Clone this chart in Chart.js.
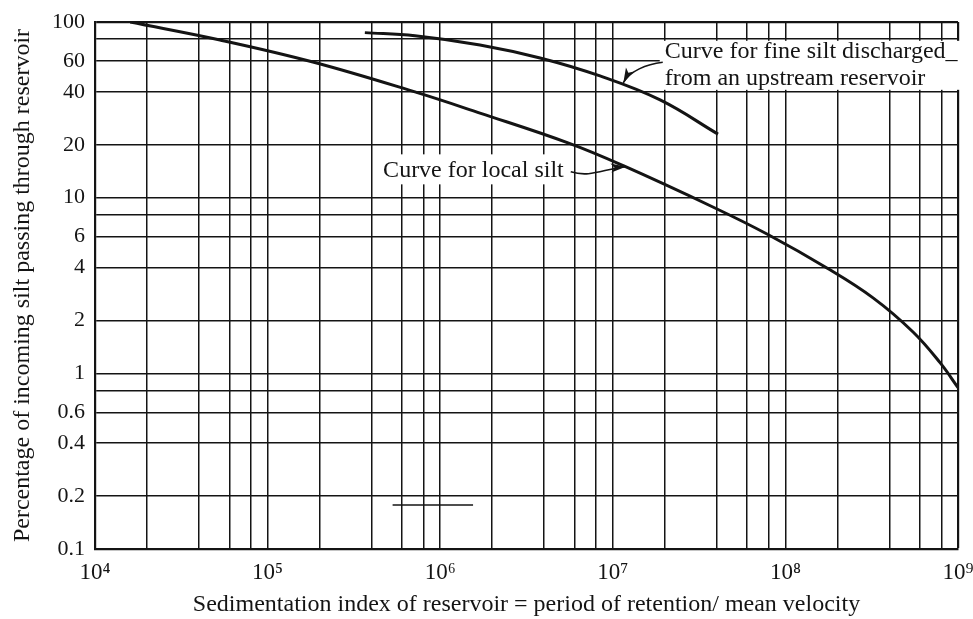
<!DOCTYPE html>
<html>
<head>
<meta charset="utf-8">
<script src="https://cdn.jsdelivr.net/npm/chart.js@4.4.1/dist/chart.umd.min.js"></script>
<style>
  html, body { margin: 0; padding: 0; background: #ffffff; }
  #wrap { position: relative; width: 973px; height: 619px; }
</style>
</head>
<body>
<div id="wrap"><canvas id="chart"></canvas></div>
<script>
// Sedimentation index (period of retention / mean velocity) vs. percentage of silt passing
const localSiltIndex = [1.6e4, 5.3e4, 1.83e5, 7.14e5, 1.7e6, 5.5e6, 1.15e7, 3.8e7, 7.82e7, 1.74e8, 3.22e8, 5.49e8, 7.87e8, 1e9];
const localSiltPct   = [100, 79, 59.2, 40, 30.3, 20.5, 15.2, 8.85, 6.21, 3.98, 2.69, 1.72, 1.15, 0.83];

const fineSiltIndex = [3.66e5, 7.14e5, 1.7e6, 3.79e6, 8.43e6, 1.88e7, 4.07e7];
const fineSiltPct   = [87, 83.6, 74, 62.4, 49.3, 36, 23];

// short stroke printed near the bottom of the sheet
const strokeIndex = [5.3e5, 1.55e6];
const strokePct   = [0.178, 0.178];

// graph-paper rulings and labelled values
const xGridValues  = [1e4, 2e4, 4e4, 6e4, 8e4,
                      1e5, 2e5, 4e5, 6e5, 8e5,
                      1e6, 2e6, 4e6, 6e6, 8e6,
                      1e7, 2e7, 4e7, 6e7, 8e7,
                      1e8, 2e8, 4e8, 6e8, 8e8,
                      1e9];
const xLabelValues = [1e4, 1e5, 1e6, 1e7, 1e8, 1e9];
const xLabelText   = ['10\u2074', '10\u2075', '10\u2076', '10\u2077', '10\u2078', '10\u2079'];

const yGridValues  = [0.1, 0.2, 0.4, 0.6, 0.8, 1, 2, 4, 6, 8, 10, 20, 40, 60, 80, 100];
const yLabelValues = [0.1, 0.2, 0.4, 0.6, 1, 2, 4, 6, 10, 20, 40, 60, 100];
const yLabelText   = ['0.1', '0.2', '0.4', '0.6', '1', '2', '4', '6', '10', '20', '40', '60', '100'];

const SERIF = '"Liberation Serif", "DejaVu Serif", serif';
const INK = '#141414';

function pairs(xs, ys) { return xs.map((x, i) => ({ x: x, y: ys[i] })); }

// Callout labels with white backing and curved arrows pointing to each curve
const calloutPlugin = {
  id: 'callouts',
  afterDatasetsDraw(chart, args, opts) {
    const ctx = chart.ctx;
    const xs = chart.scales.x, ys = chart.scales.y;
    ctx.save();
    ctx.font = '24px ' + SERIF;
    ctx.textBaseline = 'middle';
    opts.items.forEach(item => {
      const left = xs.getPixelForValue(item.x);
      const top = ys.getPixelForValue(item.y);
      const lineGap = 27;
      const widths = item.lines.map(t => ctx.measureText(t).width);
      const w = Math.max(...widths);
      const h = lineGap * item.lines.length;
      ctx.fillStyle = '#ffffff';
      ctx.fillRect(left - item.padL, top - lineGap / 2 - item.padT, w + item.padL + item.padR, h + item.padT + item.padB - 1);
      ctx.fillStyle = INK;
      item.lines.forEach((t, i) => ctx.fillText(t, left, top + i * lineGap + 1));

      // arrow: tail near the text, tip on the curve
      const tx = left + item.tail[0] + (item.tailFromRight ? w : 0);
      const ty = top + item.tail[1];
      const px = xs.getPixelForValue(item.tipX);
      const py = ys.getPixelForValue(item.tipY);
      const c1x = tx + item.c1[0], c1y = ty + item.c1[1];
      const c2x = px + item.c2[0], c2y = py + item.c2[1];
      ctx.strokeStyle = INK;
      ctx.lineWidth = 1.6;
      ctx.beginPath();
      ctx.moveTo(tx, ty);
      ctx.bezierCurveTo(c1x, c1y, c2x, c2y, px, py);
      ctx.stroke();
      const ang = Math.atan2(py - c2y, px - c2x);
      const len = 15, half = 4.5;
      ctx.beginPath();
      ctx.moveTo(px, py);
      ctx.lineTo(px - len * Math.cos(ang) + half * Math.sin(ang), py - len * Math.sin(ang) - half * Math.cos(ang));
      ctx.lineTo(px - len * 0.75 * Math.cos(ang), py - len * 0.75 * Math.sin(ang));
      ctx.lineTo(px - len * Math.cos(ang) - half * Math.sin(ang), py - len * Math.sin(ang) + half * Math.cos(ang));
      ctx.closePath();
      ctx.fillStyle = INK;
      ctx.fill();
    });
    ctx.restore();
  }
};

const edgeWidth = (ctx, edgeValue) => (ctx.tick && ctx.tick.value === edgeValue ? 2.2 : 1.5);

new Chart(document.getElementById('chart'), {
  type: 'line',
  data: {
    datasets: [
      {
        label: 'Curve for local silt',
        data: pairs(localSiltIndex, localSiltPct),
        borderColor: INK,
        borderWidth: 3,
        pointRadius: 0,
        tension: 0.4,
        fill: false
      },
      {
        label: 'Curve for fine silt discharged from an upstream reservoir',
        data: pairs(fineSiltIndex, fineSiltPct),
        borderColor: INK,
        borderWidth: 3,
        pointRadius: 0,
        tension: 0.4,
        fill: false
      },
      {
        label: 'stroke',
        data: pairs(strokeIndex, strokePct),
        borderColor: INK,
        borderWidth: 1.5,
        pointRadius: 0,
        fill: false
      }
    ]
  },
  options: {
    responsive: true,
    maintainAspectRatio: false,
    animation: false,
    events: [],
    layout: { padding: { left: 0, right: 15, top: 22, bottom: 0 } },
    plugins: {
      legend: { display: false },
      tooltip: { enabled: false },
      callouts: {
        items: [
          {
            lines: ['Curve for local silt'],
            x: 4.67e5, y: 14.4,
            padL: 4, padR: 4, padT: 2, padB: 2,
            tail: [7, 2], tailFromRight: true,
            c1: [20, 6], c2: [-22, 2],
            tipX: 1.19e7, tipY: 15
          },
          {
            lines: ['Curve for fine silt discharged_', 'from an upstream reservoir'],
            x: 2.0e7, y: 69,
            padL: 5, padR: 9, padT: -4, padB: 0,
            tail: [-2, 12], tailFromRight: false,
            c1: [-16, 2], c2: [6, -12],
            tipX: 1.15e7, tipY: 45
          }
        ]
      }
    },
    scales: {
      x: {
        type: 'logarithmic',
        min: 1e4,
        max: 1e9,
        afterBuildTicks: s => { s.ticks = xGridValues.map(v => ({ value: v })); },
        afterFit: s => { s.height = 70; s.paddingLeft = 0; s.paddingRight = 0; },
        ticks: {
          autoSkip: false,
          maxRotation: 0,
          padding: 10,
          color: INK,
          font: { family: SERIF, size: 23 },
          callback: v => { const i = xLabelValues.indexOf(v); return i >= 0 ? xLabelText[i] : ''; }
        },
        grid: {
          color: INK,
          lineWidth: c => edgeWidth(c, 1e9),
          drawTicks: false
        },
        border: { display: true, color: INK, width: 2.2 },
        title: {
          display: true,
          text: 'Sedimentation index of reservoir = period of retention/ mean velocity',
          color: INK,
          font: { family: SERIF, size: 24 },
          padding: { top: 0, bottom: 0 }
        }
      },
      y: {
        type: 'logarithmic',
        min: 0.1,
        max: 100,
        afterBuildTicks: s => { s.ticks = yGridValues.map(v => ({ value: v })); },
        afterFit: s => { s.width = 95; s.paddingTop = 0; s.paddingBottom = 0; },
        ticks: {
          autoSkip: false,
          padding: 10,
          color: INK,
          font: { family: SERIF, size: 22 },
          callback: v => { const i = yLabelValues.indexOf(v); return i >= 0 ? yLabelText[i] : ''; }
        },
        grid: {
          color: INK,
          lineWidth: c => edgeWidth(c, 100),
          drawTicks: false
        },
        border: { display: true, color: INK, width: 2.2 },
        title: {
          display: true,
          text: 'Percentage of incoming silt passing through reservoir',
          color: INK,
          font: { family: SERIF, size: 24 },
          padding: { top: 8, bottom: 0 }
        }
      }
    }
  },
  plugins: [calloutPlugin]
});
</script>
</body>
</html>
